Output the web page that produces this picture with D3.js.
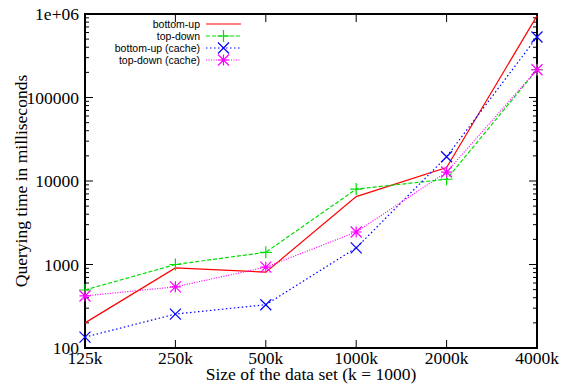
<!DOCTYPE html>
<html>
<head>
<meta charset="utf-8">
<script src="https://cdn.jsdelivr.net/npm/d3@7"></script>
<style>
  body { margin: 0; background: #fff; }
</style>
</head>
<body>
<div id="chart"></div>
<script>
// Data set sizes (x categories)
const sizes = ["125k", "250k", "500k", "1000k", "2000k", "4000k"];

// Querying time (ms) per series
const bottomUp = [200, 910, 810, 6500, 14500, 950000];
const topDown = [495, 1000, 1400, 8000, 10500, 215000];
const bottomUpCache = [135, 255, 330, 1580, 19500, 530000];
const topDownCache = [420, 540, 930, 2450, 12800, 215000];

// y tick labels
const yTicks = [100, 1000, 10000, 100000, 1000000];
const yTickLabels = ["100", "1000", "10000", "100000", "1e+06"];

const series = [
    { name: "bottom-up", values: bottomUp, color: "#ff0000", dash: null, marker: null },
    { name: "top-down", values: topDown, color: "#00dd00", dash: "4,2", marker: "plus" },
    { name: "bottom-up (cache)", values: bottomUpCache, color: "#0000ff", dash: "1.5,2.5", marker: "cross" },
    { name: "top-down (cache)", values: topDownCache, color: "#ff00ff", dash: "1,1.5", marker: "star" },
];

const width = 572, height = 387;
const margin = { top: 14, right: 35, bottom: 39, left: 85 };

const svg = d3.select("#chart").append("svg")
    .attr("width", width)
    .attr("height", height);

const x = d3.scalePoint()
    .domain(sizes)
    .range([margin.left, width - margin.right]);

const y = d3.scaleLog()
    .domain([100, 1000000])
    .range([height - margin.bottom, margin.top]);

const serif = "'Liberation Serif', 'Times New Roman', serif";
const fontSize = 17.5;

// minor ticks for the log axis
const minor = [];
for (let e = 2; e < 6; e++) {
    for (let m = 2; m <= 9; m++) minor.push(m * Math.pow(10, e));
}

const axisG = svg.append("g").attr("stroke", "#000").attr("stroke-width", 1);

// left/right major + minor ticks
[margin.left, width - margin.right].forEach((x0, i) => {
    const dir = i === 0 ? 1 : -1;
    axisG.selectAll(null).data(yTicks).join("line")
        .attr("x1", x0).attr("x2", x0 + dir * 8)
        .attr("y1", d => y(d)).attr("y2", d => y(d));
    axisG.selectAll(null).data(minor).join("line")
        .attr("x1", x0).attr("x2", x0 + dir * 4)
        .attr("y1", d => y(d)).attr("y2", d => y(d));
});

// bottom/top ticks
[height - margin.bottom, margin.top].forEach((y0, i) => {
    const dir = i === 0 ? -1 : 1;
    axisG.selectAll(null).data(sizes).join("line")
        .attr("x1", d => x(d)).attr("x2", d => x(d))
        .attr("y1", y0).attr("y2", y0 + dir * 8);
});

// frame
svg.append("rect")
    .attr("x", margin.left).attr("y", margin.top)
    .attr("width", width - margin.left - margin.right)
    .attr("height", height - margin.top - margin.bottom)
    .attr("fill", "none").attr("stroke", "#000").attr("stroke-width", 2);

// tick labels
svg.append("g")
    .attr("font-family", serif).attr("font-size", fontSize).attr("text-anchor", "end")
    .selectAll("text").data(yTicks).join("text")
    .attr("x", margin.left - 6)
    .attr("y", d => y(d) + 6)
    .text((d, i) => yTickLabels[i]);

svg.append("g")
    .attr("font-family", serif).attr("font-size", fontSize).attr("text-anchor", "middle")
    .selectAll("text").data(sizes).join("text")
    .attr("x", d => x(d))
    .attr("y", height - margin.bottom + 16)
    .text(d => d);

// axis titles
svg.append("text")
    .attr("font-family", serif).attr("font-size", fontSize).attr("text-anchor", "middle")
    .attr("x", (margin.left + width - margin.right) / 2)
    .attr("y", height - 7)
    .text("Size of the data set (k = 1000)");

svg.append("text")
    .attr("font-family", serif).attr("font-size", fontSize).attr("text-anchor", "middle")
    .attr("transform", `translate(27,${(margin.top + height - margin.bottom) / 2}) rotate(-90)`)
    .text("Querying time in milliseconds");

// marker shapes
const markerPath = (type, s) => {
    if (type === "plus") return `M${-s},0H${s}M0,${-s}V${s}`;
    if (type === "cross") return `M${-s},${-s}L${s},${s}M${-s},${s}L${s},${-s}`;
    if (type === "star") return `M${-s},0H${s}M0,${-s}V${s}M${-s},${-s}L${s},${s}M${-s},${s}L${s},${-s}`;
    return "";
};

const line = d3.line()
    .x((d, i) => x(sizes[i]))
    .y(d => y(d));

// series lines
series.forEach(s => {
    svg.append("path")
        .datum(s.values)
        .attr("d", line)
        .attr("fill", "none")
        .attr("stroke", s.color)
        .attr("stroke-width", 1.2)
        .attr("stroke-dasharray", s.dash);
    if (s.marker) {
        svg.append("g").selectAll("path").data(s.values).join("path")
            .attr("transform", (d, i) => `translate(${x(sizes[i])},${y(d)})`)
            .attr("d", markerPath(s.marker, s.marker === "plus" ? 6 : 5.5))
            .attr("stroke", s.color)
            .attr("stroke-width", 1.2)
            .attr("fill", "none");
    }
});

// legend
const legend = svg.append("g")
    .attr("font-family", "'Liberation Sans', Arial, sans-serif")
    .attr("font-size", 10.5);

series.forEach((s, i) => {
    const ly = 24 + i * 12;
    legend.append("text")
        .attr("x", 200).attr("y", ly + 4)
        .attr("text-anchor", "end")
        .text(s.name);
    legend.append("line")
        .attr("x1", 206).attr("x2", 241)
        .attr("y1", ly).attr("y2", ly)
        .attr("stroke", s.color)
        .attr("stroke-width", 1.2)
        .attr("stroke-dasharray", s.dash);
    if (s.marker) {
        legend.append("path")
            .attr("transform", `translate(223.5,${ly})`)
            .attr("d", markerPath(s.marker, s.marker === "plus" ? 6 : 5.5))
            .attr("stroke", s.color)
            .attr("stroke-width", 1.2)
            .attr("fill", "none");
    }
});
</script>
</body>
</html>
